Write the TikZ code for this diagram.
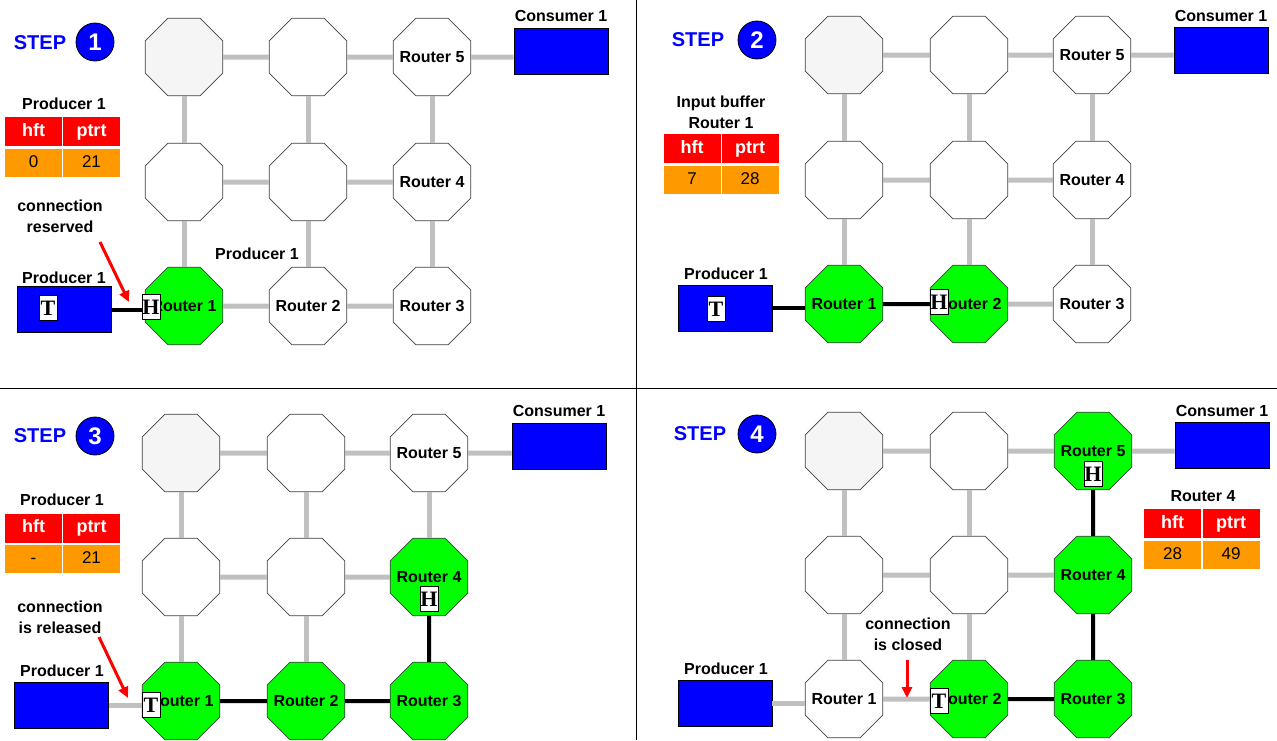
\documentclass[tikz,border=0pt]{standalone}
\usepackage{fontspec}
\setmainfont{Liberation Sans}
\newfontfamily\tagfont{Liberation Serif}
\usetikzlibrary{shapes.geometric,arrows.meta}
\definecolor{routergreen}{HTML}{00FF00}
\definecolor{linkgrey}{HTML}{C0C0C0}
\definecolor{idlegrey}{HTML}{F5F5F5}
\definecolor{cellred}{HTML}{FF0000}
\definecolor{cellorange}{HTML}{FF9900}
\definecolor{boxblue}{HTML}{0000FF}

\begin{document}
\begin{tikzpicture}[x=1pt, y=-1pt,
  router/.style={regular polygon, regular polygon sides=8, minimum size=84pt, inner sep=0pt, draw=black!75, line width=0.8pt, fill=white, font=\bfseries\fontsize{16}{19}\selectfont},
  busy/.style={router, fill=routergreen},
  idle/.style={router, fill=idlegrey},
  agent/.style={rectangle, draw=black, line width=0.8pt, fill=boxblue, minimum width=94pt, minimum height=46pt},
  lab/.style={font=\bfseries\fontsize{16}{21}\selectfont, align=center},
  tag/.style={draw=black, line width=0.6pt, fill=white, inner sep=0pt, minimum width=18pt, minimum height=25pt, font=\tagfont\bfseries\fontsize{22}{22}\selectfont},
  thead/.style={fill=cellred, text=white, inner sep=0pt, minimum width=57pt, minimum height=29pt, text height=13pt, text depth=4pt, font=\bfseries\fontsize{18}{20}\selectfont},
  tcell/.style={fill=cellorange, inner sep=0pt, minimum width=57pt, minimum height=28pt, text height=12pt, text depth=3pt, font=\fontsize{17}{19}\selectfont},
  wire/.style={draw=linkgrey, line width=5pt},
  wireon/.style={draw=black, line width=4pt},
  hint/.style={draw=red, line width=3pt, -{Triangle[length=11pt,width=10pt]}},
  steplabel/.style={text=boxblue, font=\bfseries\fontsize{20}{24}\selectfont},
  stepnum/.style={circle, draw=black, line width=0.8pt, fill=boxblue, text=white, minimum size=38pt, inner sep=0pt, font=\bfseries\fontsize{24}{24}\selectfont}]

\useasboundingbox (0,0) rectangle (1277,740);
\draw[line width=1pt] (636,0) -- (636,740);
\draw[line width=1pt] (0,388) -- (1277,388);

\node[steplabel] (Astep) at (40,43) {STEP};
\node[stepnum] (Anum) at (95,42) {1};
\node[lab] (Atitle) at (64,104) {Producer 1};
\node[thead] (Ahft) at (33.5,131.5) {hft};
\node[thead] (Aptrt) at (91.5,131.5) {ptrt};
\node[tcell] (Ahv) at (33.5,163) {0};
\node[tcell] (Apv) at (91.5,163) {21};
\node[lab] (Anote) at (60,216) {connection\\reserved};
\coordinate (Anote1) at (100,242);
\coordinate (Anote2) at (129,302);
\node[lab] (Aplab) at (64,278) {Producer 1};
\node[agent] (Aprod) at (64.5,309.5) {};
\node[lab] (Aclab) at (561,16) {Consumer 1};
\node[agent] (Acons) at (561,51) {};
\node[lab] (Aextra) at (257,254) {Producer 1};
\node[idle] (A6) at (184,57) {};
\node[router] (A7) at (308,57) {};
\node[router] (A5) at (432,57) {\makebox[0pt]{Router 5}};
\node[router] (A8) at (184,182) {};
\node[router] (A9) at (308,182) {};
\node[router] (A4) at (432,182) {\makebox[0pt]{Router 4}};
\node[busy] (A1) at (184,306) {\makebox[0pt]{Router 1}};
\node[router] (A2) at (308,306) {\makebox[0pt]{Router 2}};
\node[router] (A3) at (432,306) {\makebox[0pt]{Router 3}};
\draw[wire] (A6) -- (A7) -- (A5);
\draw[wire] (A5) -- (A5 -| Acons.west);
\draw[wire] (A8) -- (A9) -- (A4);
\draw[wire] (A1) -- (A2) -- (A3);
\draw[wire] (A6) -- (A8) -- (A1);
\draw[wire] (A7) -- (A9) -- (A2);
\draw[wire] (A5) -- (A4) -- (A3);
\draw[wireon] (Aprod) -- (Aprod -| A1.west);
\draw[hint] (Anote1) -- (Anote2);
\node[tag] (Atail) at (48,308) {T};
\node[tag] (Ahead) at (151,307) {H};

\node[steplabel] (Bstep) at (698,40) {STEP};
\node[stepnum] (Bnum) at (757,40) {2};
\node[lab] (Btitle) at (721,112) {Input buffer\\Router 1};
\node[thead] (Bhft) at (692,148.5) {hft};
\node[thead] (Bptrt) at (750,148.5) {ptrt};
\node[tcell] (Bhv) at (692,180) {7};
\node[tcell] (Bpv) at (750,180) {28};
\node[lab] (Bplab) at (726,274) {Producer 1};
\node[agent] (Bprod) at (725,308) {};
\node[lab] (Bclab) at (1221,16) {Consumer 1};
\node[agent] (Bcons) at (1221,50) {};
\node[idle] (B6) at (844,55) {};
\node[router] (B7) at (969,55) {};
\node[router] (B5) at (1092,55) {\makebox[0pt]{Router 5}};
\node[router] (B8) at (844,180) {};
\node[router] (B9) at (969,180) {};
\node[router] (B4) at (1092,180) {\makebox[0pt]{Router 4}};
\node[busy] (B1) at (844,304) {\makebox[0pt]{Router 1}};
\node[busy] (B2) at (969,304) {\makebox[0pt]{Router 2}};
\node[router] (B3) at (1092,304) {\makebox[0pt]{Router 3}};
\draw[wire] (B6) -- (B7) -- (B5);
\draw[wire] (B5) -- (B5 -| Bcons.west);
\draw[wire] (B8) -- (B9) -- (B4);
\draw[wire] (B2) -- (B3);
\draw[wire] (B6) -- (B8) -- (B1);
\draw[wire] (B7) -- (B9) -- (B2);
\draw[wire] (B5) -- (B4) -- (B3);
\draw[wireon] (Bprod) -- (Bprod -| B1.west);
\draw[wireon] (B1) -- (B2);
\node[tag] (Btail) at (716,309) {T};
\node[tag] (Bhead) at (939,302) {H};

\node[steplabel] (Cstep) at (40,436) {STEP};
\node[stepnum] (Cnum) at (95,436) {3};
\node[lab] (Ctitle) at (62,500) {Producer 1};
\node[thead] (Chft) at (33.5,528) {hft};
\node[thead] (Cptrt) at (91.5,528) {ptrt};
\node[tcell] (Chv) at (33.5,559) {-};
\node[tcell] (Cpv) at (91.5,559) {21};
\node[lab] (Cnote) at (60,617) {connection\\is released};
\coordinate (Cnote1) at (99,637);
\coordinate (Cnote2) at (128,698);
\node[lab] (Cplab) at (62,671) {Producer 1};
\node[agent] (Cprod) at (61.5,705) {};
\node[lab] (Cclab) at (559,411) {Consumer 1};
\node[agent] (Ccons) at (559,446) {};
\node[idle] (C6) at (181,453) {};
\node[router] (C7) at (306,453) {};
\node[router] (C5) at (429,453) {\makebox[0pt]{Router 5}};
\node[router] (C8) at (181,577) {};
\node[router] (C9) at (306,577) {};
\node[busy] (C4) at (429,577) {\makebox[0pt]{Router 4}};
\node[busy] (C1) at (181,701) {\makebox[0pt]{Router 1}};
\node[busy] (C2) at (306,701) {\makebox[0pt]{Router 2}};
\node[busy] (C3) at (429,701) {\makebox[0pt]{Router 3}};
\draw[wire] (C6) -- (C7) -- (C5);
\draw[wire] (C5) -- (C5 -| Ccons.west);
\draw[wire] (C8) -- (C9) -- (C4);
\draw[wire] (C6) -- (C8) -- (C1);
\draw[wire] (C7) -- (C9) -- (C2);
\draw[wire] (C5) -- (C4);
\draw[wire] (Cprod) -- (Cprod -| C1.west);
\draw[wireon] (C1) -- (C2) -- (C3) -- (C4);
\draw[hint] (Cnote1) -- (Cnote2);
\node[tag] (Ctail) at (151,705) {T};
\node[tag] (Chead) at (429,599) {H};

\node[steplabel] (Dstep) at (700,434) {STEP};
\node[stepnum] (Dnum) at (757,434) {4};
\node[lab] (Dtitle) at (1203,496) {Router 4};
\node[thead] (Dhft) at (1172.5,523.5) {hft};
\node[thead] (Dptrt) at (1231,523.5) {ptrt};
\node[tcell] (Dhv) at (1172.5,555) {28};
\node[tcell] (Dpv) at (1231,555) {49};
\node[lab] (Dnote) at (908,634) {connection\\is closed};
\coordinate (Dnote1) at (907,660);
\coordinate (Dnote2) at (907,698);
\node[lab] (Dplab) at (726,669) {Producer 1};
\node[agent] (Dprod) at (725,703) {};
\node[lab] (Dclab) at (1222,411) {Consumer 1};
\node[agent] (Dcons) at (1222,445) {};
\node[idle] (D6) at (844,451) {};
\node[router] (D7) at (969,451) {};
\node[busy] (D5) at (1093,451) {\makebox[0pt]{Router 5}};
\node[router] (D8) at (844,575) {};
\node[router] (D9) at (969,575) {};
\node[busy] (D4) at (1093,575) {\makebox[0pt]{Router 4}};
\node[router] (D1) at (844,699) {\makebox[0pt]{Router 1}};
\node[busy] (D2) at (969,699) {\makebox[0pt]{Router 2}};
\node[busy] (D3) at (1093,699) {\makebox[0pt]{Router 3}};
\draw[wire] (D6) -- (D7) -- (D5);
\draw[wire] (D5) -- (D5 -| Dcons.west);
\draw[wire] (D8) -- (D9) -- (D4);
\draw[wire] (D6) -- (D8) -- (D1);
\draw[wire] (D7) -- (D9) -- (D2);
\draw[wire] (Dprod) -- (Dprod -| D1.west);
\draw[wire] (D1) -- (D2);
\draw[wireon] (D2) -- (D3) -- (D4) -- (D5);
\draw[hint] (Dnote1) -- (Dnote2);
\node[tag] (Dtail) at (939,701) {T};
\node[tag] (Dhead) at (1093,474) {H};

\end{tikzpicture}
\end{document}
